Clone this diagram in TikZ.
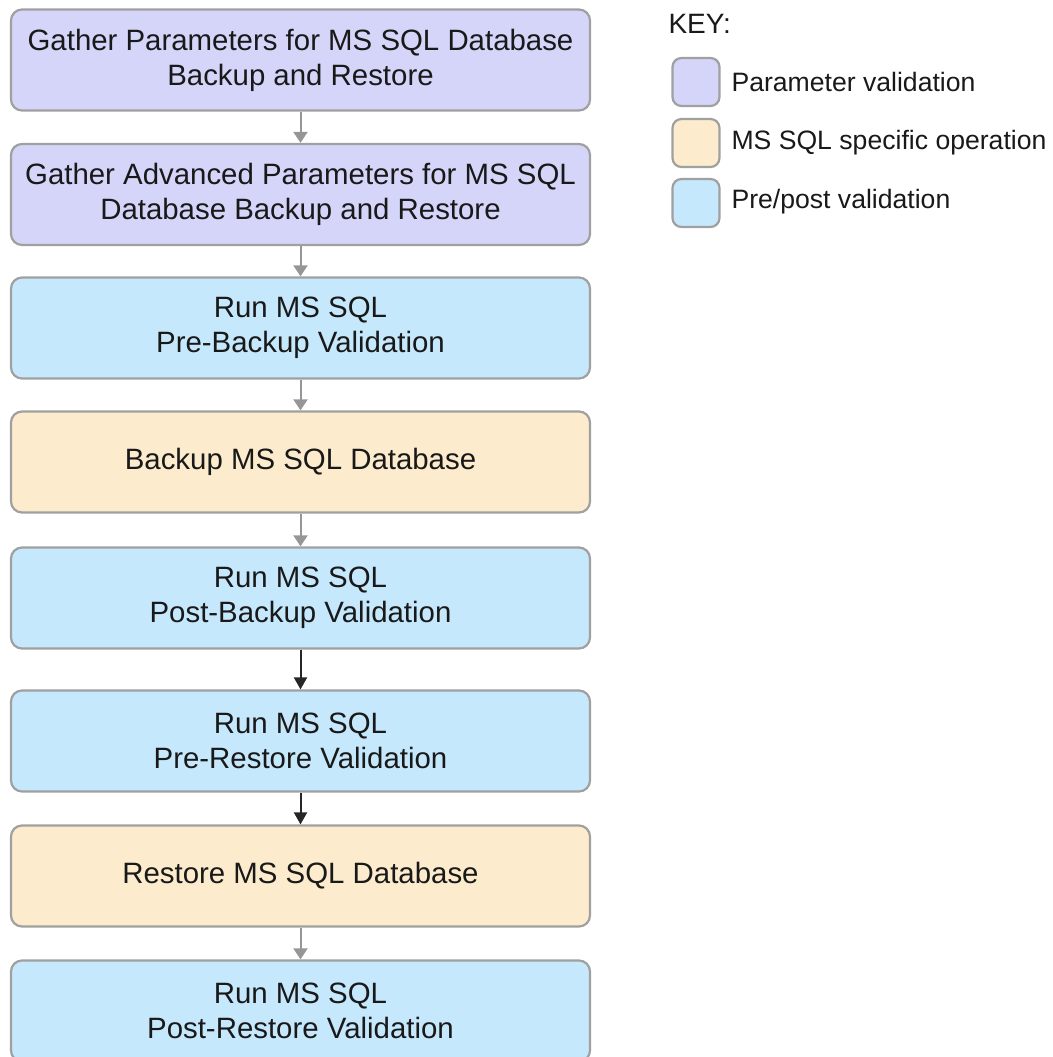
\documentclass[tikz,border=0pt]{standalone}
\usepackage{fontspec}
\setmainfont{Liberation Sans}
\usetikzlibrary{arrows.meta}
\definecolor{parc}{RGB}{213,213,250}
\definecolor{msc}{RGB}{252,235,204}
\definecolor{ppc}{RGB}{198,232,252}
\definecolor{bordc}{RGB}{160,160,160}
\definecolor{arrg}{RGB}{150,150,150}
\begin{document}
\begin{tikzpicture}[x=1pt,y=-1pt,
  stepbox/.style={draw=bordc, line width=2.2pt, rounded corners=11pt, minimum width=579pt, minimum height=101pt, align=center, inner sep=0pt, font=\fontsize{29.4}{35}\selectfont, text=black!90},
  keybox/.style={draw=bordc, line width=2.2pt, rounded corners=9pt, minimum width=47pt, minimum height=48pt, inner sep=0pt},
  keytext/.style={anchor=west, font=\fontsize{26.6}{30}\selectfont, text=black!90},
  garr/.style={draw=arrg, line width=2pt, -{Triangle[width=14pt,length=11pt]}},
  barr/.style={draw=black!85, line width=2pt, -{Triangle[width=13pt,length=12pt]}}]
\useasboundingbox (0,0) rectangle (1052,1057);
\clip (0,0) rectangle (1052,1057);
\node[stepbox, fill=parc] (b1) at (300.5,60) {Gather Parameters for MS SQL Database\\Backup and Restore};
\node[stepbox, fill=parc] (b2) at (300.5,194.5) {Gather Advanced Parameters for MS SQL\\Database Backup and Restore};
\node[stepbox, fill=ppc] (b3) at (300.5,328) {Run MS SQL\\Pre-Backup Validation};
\node[stepbox, fill=msc] (b4) at (300.5,462) {Backup MS SQL Database};
\node[stepbox, fill=ppc] (b5) at (300.5,598) {Run MS SQL\\Post-Backup Validation};
\node[stepbox, fill=ppc] (b6) at (300.5,741) {Run MS SQL\\Pre-Restore Validation};
\node[stepbox, fill=msc] (b7) at (300.5,876) {Restore MS SQL Database};
\node[stepbox, fill=ppc] (b8) at (300.5,1011) {Run MS SQL\\Post-Restore Validation};
\draw[garr] (b1) -- (b2);
\draw[garr] (b2) -- (b3);
\draw[garr] (b3) -- (b4);
\draw[garr] (b4) -- (b5);
\draw[barr] (b5) -- (b6);
\draw[barr] (b6) -- (b7);
\draw[garr] (b7) -- (b8);
\node[anchor=west, font=\fontsize{28}{32}\selectfont, text=black!90] (key) at (665,24) {KEY:};
\node[keybox, fill=parc] (k1) at (696,82) {};
\node[keybox, fill=msc] (k2) at (696,143) {};
\node[keybox, fill=ppc] (k3) at (696,203) {};
\node[keytext] (t1) at (728,82) {Parameter validation};
\node[keytext] (t2) at (728,143) {MS SQL specific operation};
\node[keytext] (t3) at (728,202) {Pre/post validation};
\end{tikzpicture}
\end{document}
